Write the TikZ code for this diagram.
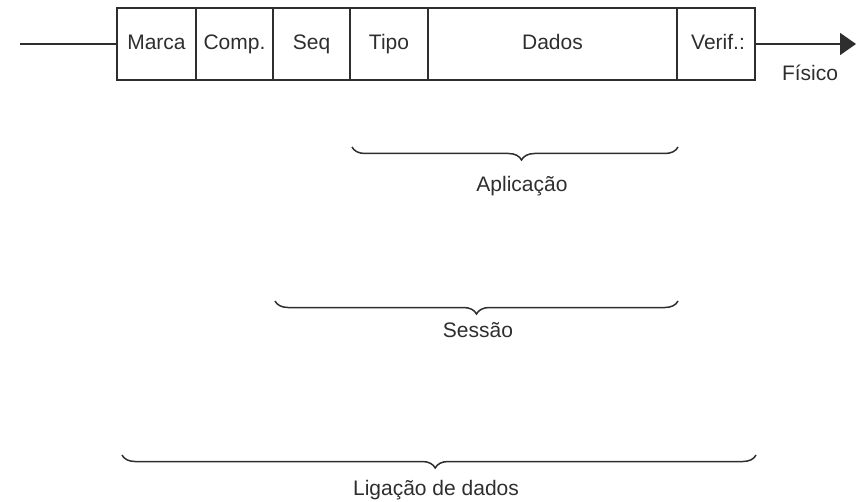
\documentclass[tikz,border=0pt]{standalone}
\usepackage{fontspec}
\setmainfont{Liberation Sans}
\usetikzlibrary{arrows.meta,decorations.pathreplacing}

\definecolor{tinta}{rgb}{0.18,0.18,0.18}

\begin{document}
\begin{tikzpicture}[x=0.5pt,y=-0.5pt,line width=0.75pt,color=tinta,
  font=\fontsize{10.5}{12}\selectfont,
  campo/.style={draw,minimum height=36pt,inner sep=0pt,outer sep=0pt,
    text height=8pt,text depth=2.5pt},
  chave/.style={decorate,decoration={brace,mirror,amplitude=6.5pt,aspect=#1}},
  chave/.default=0.5,
  seta/.style={line width=1pt,-{Triangle[length=8pt,width=11pt]}}]

\useasboundingbox (0,0) rectangle (861,502);

% quadro da mensagem
\node[campo,minimum width=39.5pt] (marca) at (156.5,44) {Marca};
\node[campo,minimum width=38.5pt] (comp)  at (234.5,44) {Comp.};
\node[campo,minimum width=38.5pt] (seq)   at (311.5,44) {Seq};
\node[campo,minimum width=39pt]   (tipo)  at (389,44)   {Tipo};
\node[campo,minimum width=124.5pt] (dados) at (552.5,44) {Dados};
\node[campo,minimum width=39pt]   (verif) at (716,44)   {};
\node[text height=8pt,text depth=2.5pt] at (718,44) (verift) {Verif.:};

\coordinate (entrada) at (20,44);
\coordinate (saida) at (856,44);
\draw (entrada) -- (marca.west);
\draw[seta] (verif.east) -- (saida);
\node at (810,73) (fisico) {Físico};

% camadas
\coordinate (apl-a) at (352,147);
\coordinate (apl-b) at (678,147);
\draw[chave=0.52] (apl-a) -- (apl-b);
\node at (522,186) (aplicacao) {Aplicação};

\coordinate (ses-a) at (275,301);
\coordinate (ses-b) at (678,301);
\draw[chave] (ses-a) -- (ses-b);
\node at (478,330) (sessao) {Sessão};

\coordinate (lig-a) at (122,455);
\coordinate (lig-b) at (756,455);
\draw[chave=0.494] (lig-a) -- (lig-b);
\node at (436,490) (ligacao) {Ligação de dados};

\end{tikzpicture}
\end{document}
